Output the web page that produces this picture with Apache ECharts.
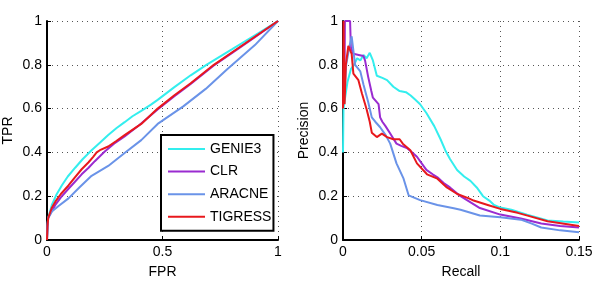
<!DOCTYPE html>
<html>
<head>
<meta charset="utf-8">
<script src="https://cdn.jsdelivr.net/npm/echarts@6/dist/echarts.min.js"></script>
<style>
html, body {margin:0; padding:0; background:#fff;}
#main {width:600px; height:284px;}
</style>
</head>
<body>
<div id="main"></div>
<script>
var names = ['GENIE3', 'CLR', 'ARACNE', 'TIGRESS'];
var colors = ['#33eeee', '#9a2bd0', '#6a93e8', '#e8181c'];

// ROC curves [FPR, TPR]
var genie3Roc = [[0,0],[0.002,0.06],[0.005,0.1],[0.021,0.16],[0.04,0.205],[0.064,0.249],[0.09,0.29],[0.122,0.33],[0.155,0.37],[0.193,0.41],[0.23,0.445],[0.265,0.479],[0.3,0.51],[0.336,0.538],[0.37,0.565],[0.408,0.59],[0.45,0.618],[0.479,0.64],[0.55,0.697],[0.622,0.752],[0.69,0.8],[0.8,0.87],[0.9,0.935],[1,1]];
var clrRoc = [[0,0],[0.002,0.06],[0.005,0.1],[0.02,0.13],[0.036,0.16],[0.06,0.195],[0.093,0.234],[0.12,0.265],[0.15,0.3],[0.18,0.33],[0.207,0.36],[0.25,0.404],[0.29,0.44],[0.336,0.473],[0.4,0.525],[0.48,0.597],[0.55,0.655],[0.622,0.712],[0.722,0.797],[0.8,0.853],[0.9,0.926],[1,1]];
var aracneRoc = [[0,0],[0.002,0.06],[0.005,0.1],[0.021,0.13],[0.05,0.155],[0.093,0.19],[0.14,0.24],[0.193,0.293],[0.265,0.338],[0.336,0.397],[0.408,0.456],[0.479,0.53],[0.59,0.61],[0.687,0.69],[0.78,0.78],[0.9,0.89],[1,1]];
var tigressRoc = [[0,0],[0.002,0.06],[0.005,0.1],[0.02,0.145],[0.036,0.175],[0.06,0.21],[0.093,0.249],[0.12,0.285],[0.15,0.323],[0.18,0.355],[0.2,0.38],[0.215,0.4],[0.229,0.41],[0.265,0.427],[0.3,0.452],[0.336,0.479],[0.408,0.53],[0.479,0.6],[0.55,0.66],[0.622,0.716],[0.722,0.8],[0.8,0.856],[0.9,0.928],[1,1]];

// PR curves [Recall, Precision]
var genie3Pr = [[0,0.4],[0.0003,0.6],[0.0028,0.72],[0.005,0.78],[0.007,0.8],[0.009,0.83],[0.011,0.82],[0.013,0.845],[0.015,0.83],[0.017,0.855],[0.019,0.82],[0.0215,0.75],[0.025,0.74],[0.028,0.73],[0.032,0.7],[0.036,0.68],[0.04,0.675],[0.043,0.66],[0.046,0.64],[0.049,0.62],[0.053,0.58],[0.058,0.52],[0.062,0.46],[0.065,0.41],[0.068,0.37],[0.0725,0.32],[0.077,0.29],[0.081,0.27],[0.085,0.24],[0.089,0.2],[0.093,0.18],[0.096,0.16],[0.1,0.148],[0.107,0.138],[0.117,0.116],[0.125,0.1],[0.13,0.089],[0.14,0.084],[0.15,0.08]];
var clrPr = [[0.001,0.75],[0.0012,1],[0.0045,1],[0.005,0.88],[0.0066,0.85],[0.01,0.845],[0.013,0.84],[0.014,0.82],[0.016,0.745],[0.018,0.68],[0.019,0.65],[0.0226,0.62],[0.0236,0.56],[0.025,0.54],[0.027,0.52],[0.03,0.486],[0.034,0.44],[0.037,0.43],[0.0406,0.42],[0.044,0.4],[0.047,0.38],[0.05,0.35],[0.053,0.32],[0.057,0.3],[0.06,0.286],[0.064,0.26],[0.068,0.24],[0.0747,0.2],[0.087,0.146],[0.1,0.116],[0.113,0.098],[0.126,0.075],[0.138,0.064],[0.15,0.057]];
var aracnePr = [[0.001,0.67],[0.002,0.8],[0.004,0.88],[0.0055,0.93],[0.0077,0.8],[0.011,0.77],[0.013,0.71],[0.016,0.63],[0.0183,0.56],[0.0205,0.54],[0.0236,0.515],[0.027,0.48],[0.03,0.44],[0.034,0.35],[0.0385,0.28],[0.0417,0.204],[0.049,0.182],[0.06,0.16],[0.0704,0.145],[0.0747,0.138],[0.087,0.112],[0.1,0.104],[0.113,0.093],[0.12,0.075],[0.126,0.057],[0.138,0.044],[0.15,0.035]];
var tigressPr = [[0,0.6],[0.0003,1],[0.001,0.62],[0.0018,0.8],[0.0034,0.886],[0.0055,0.85],[0.0066,0.76],[0.0098,0.73],[0.012,0.67],[0.015,0.597],[0.017,0.54],[0.0183,0.49],[0.0215,0.47],[0.0247,0.486],[0.028,0.47],[0.032,0.46],[0.036,0.46],[0.038,0.44],[0.0428,0.41],[0.047,0.35],[0.0534,0.3],[0.06,0.28],[0.066,0.24],[0.0726,0.21],[0.08,0.19],[0.083,0.18],[0.092,0.16],[0.1,0.142],[0.111,0.124],[0.119,0.108],[0.13,0.086],[0.15,0.064]];

var rocData = [genie3Roc, clrRoc, aracneRoc, tigressRoc];
var prData = [genie3Pr, clrPr, aracnePr, tigressPr];

var font = 'Liberation Sans';

function makeAxis(idx, name, max, interval, gap) {
    return {
        type: 'value',
        gridIndex: idx,
        min: 0,
        max: max,
        interval: interval,
        name: name,
        nameLocation: 'middle',
        nameGap: gap,
        nameTextStyle: {color: '#000', fontSize: 14, fontFamily: font},
        axisLine: {show: true, onZero: false, lineStyle: {color: '#000', width: 2}},
        axisTick: {show: true, inside: true, length: 4, lineStyle: {color: '#000'}},
        axisLabel: {color: '#000', fontSize: 14, fontFamily: font, margin: 5},
        splitLine: {show: true, lineStyle: {color: '#555', type: [1, 4], width: 1}}
    };
}

var series = [];
for (var i = 0; i < names.length; i++) {
    series.push({
        name: names[i], type: 'line', xAxisIndex: 0, yAxisIndex: 0,
        data: rocData[i], symbol: 'none', color: colors[i],
        lineStyle: {width: 2}, z: 3 + i
    });
}
for (var i = 0; i < names.length; i++) {
    series.push({
        name: names[i], type: 'line', xAxisIndex: 1, yAxisIndex: 1,
        data: prData[i], symbol: 'none', color: colors[i],
        lineStyle: {width: 2}, z: 3 + i
    });
}

var option = {
    animation: false,
    backgroundColor: '#fff',
    grid: [
        {left: 45, top: 21, width: 233, height: 225},
        {left: 343, top: 21, width: 236, height: 225}
    ],
    xAxis: [
        makeAxis(0, 'FPR', 1, 0.5, 25),
        makeAxis(1, 'Recall', 0.15, 0.05, 25)
    ],
    yAxis: [
        makeAxis(0, 'TPR', 1, 0.2, 32),
        makeAxis(1, 'Precision', 1, 0.2, 32)
    ],
    legend: {
        data: names,
        orient: 'vertical',
        left: 161,
        top: 135,
        width: 117,
        padding: [7, 2, 7, 7],
        icon: 'rect',
        itemWidth: 37,
        itemHeight: 2,
        itemGap: 8.6,
        borderColor: '#000',
        borderWidth: 2,
        backgroundColor: '#fff',
        textStyle: {color: '#000', fontSize: 14, lineHeight: 14, fontFamily: font}
    },
    series: series
};

var myChart = echarts.init(document.getElementById('main'));
myChart.setOption(option);
</script>
</body>
</html>
